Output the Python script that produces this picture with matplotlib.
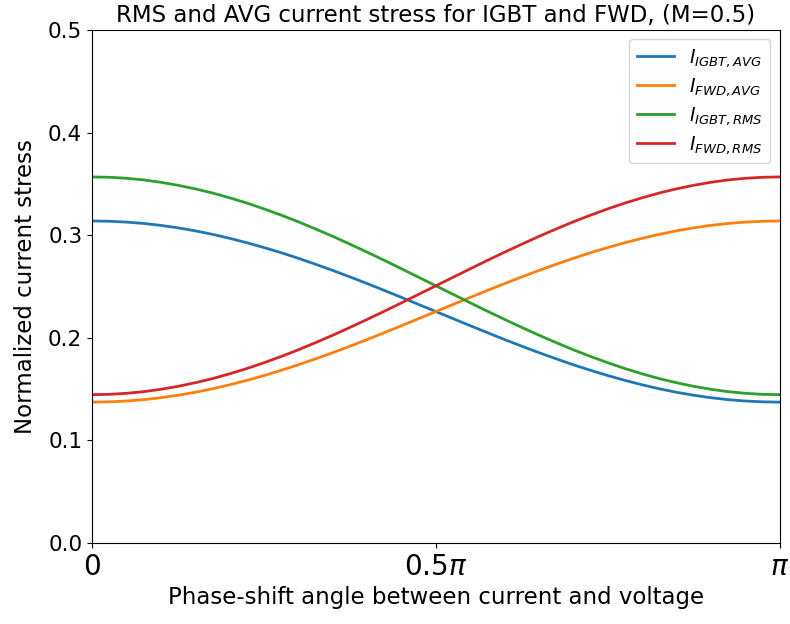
import numpy as np
from matplotlib import pyplot as plt

# phase-shift angle samples (in units of pi)
phi = [0.000, 0.025, 0.050, 0.075, 0.100, 0.125, 0.150, 0.175, 0.200, 0.225,
       0.250, 0.275, 0.300, 0.325, 0.350, 0.375, 0.400, 0.425, 0.450, 0.475,
       0.500, 0.525, 0.550, 0.575, 0.600, 0.625, 0.650, 0.675, 0.700, 0.725,
       0.750, 0.775, 0.800, 0.825, 0.850, 0.875, 0.900, 0.925, 0.950, 0.975,
       1.000]

i_igbt_avg = [0.3138, 0.3135, 0.3127, 0.3114, 0.3095, 0.3071, 0.3042, 0.3008,
              0.2969, 0.2926, 0.2879, 0.2829, 0.2774, 0.2716, 0.2656, 0.2593,
              0.2528, 0.2461, 0.2393, 0.2324, 0.2255, 0.2186, 0.2117, 0.2049,
              0.1982, 0.1917, 0.1854, 0.1794, 0.1736, 0.1682, 0.1631, 0.1584,
              0.1541, 0.1502, 0.1468, 0.1439, 0.1415, 0.1396, 0.1383, 0.1375,
              0.1372]
i_fwd_avg = [0.1372, 0.1375, 0.1383, 0.1396, 0.1415, 0.1439, 0.1468, 0.1502,
             0.1541, 0.1584, 0.1631, 0.1682, 0.1736, 0.1794, 0.1854, 0.1917,
             0.1982, 0.2049, 0.2117, 0.2186, 0.2255, 0.2324, 0.2393, 0.2461,
             0.2528, 0.2593, 0.2656, 0.2716, 0.2774, 0.2829, 0.2879, 0.2926,
             0.2969, 0.3008, 0.3042, 0.3071, 0.3095, 0.3114, 0.3127, 0.3135,
             0.3138]
i_igbt_rms = [0.3567, 0.3564, 0.3554, 0.3538, 0.3515, 0.3486, 0.3451, 0.3411,
              0.3364, 0.3313, 0.3256, 0.3195, 0.3130, 0.3060, 0.2988, 0.2912,
              0.2834, 0.2754, 0.2672, 0.2589, 0.2506, 0.2423, 0.2340, 0.2258,
              0.2178, 0.2100, 0.2024, 0.1952, 0.1882, 0.1817, 0.1756, 0.1699,
              0.1648, 0.1601, 0.1561, 0.1526, 0.1497, 0.1474, 0.1458, 0.1448,
              0.1445]
i_fwd_rms = [0.1445, 0.1448, 0.1458, 0.1474, 0.1497, 0.1526, 0.1561, 0.1601,
             0.1648, 0.1699, 0.1756, 0.1817, 0.1882, 0.1952, 0.2024, 0.2100,
             0.2178, 0.2258, 0.2340, 0.2423, 0.2506, 0.2589, 0.2672, 0.2754,
             0.2834, 0.2912, 0.2988, 0.3060, 0.3130, 0.3195, 0.3256, 0.3313,
             0.3364, 0.3411, 0.3451, 0.3486, 0.3515, 0.3538, 0.3554, 0.3564,
             0.3567]

x = np.array(phi) * np.pi

fig = plt.figure(figsize=(7.9, 6.24), dpi=100)
ax = fig.add_axes([0.1165, 0.130, 0.8705, 0.822])

ax.plot(x, i_igbt_avg, lw=2, label=r'$I_{IGBT,AVG}$')
ax.plot(x, i_fwd_avg, lw=2, label=r'$I_{FWD,AVG}$')
ax.plot(x, i_igbt_rms, lw=2, label=r'$I_{IGBT,RMS}$')
ax.plot(x, i_fwd_rms, lw=2, label=r'$I_{FWD,RMS}$')

ax.set_xlim(0, np.pi)
ax.set_ylim(0, 0.5)
ax.set_xticks([0, 0.5 * np.pi, np.pi])
ax.set_xticklabels(['$0$', r'$0.5\pi$', r'$\pi$'], fontsize=20)
ax.set_yticks([0.0, 0.1, 0.2, 0.3, 0.4, 0.5])
ax.tick_params(axis='y', labelsize=15.5)

ax.set_title('RMS and AVG current stress for IGBT and FWD, (M=0.5)', fontsize=16.5)
ax.set_xlabel('Phase-shift angle between current and voltage', fontsize=16.5)
ax.set_ylabel('Normalized current stress', fontsize=16.5, labelpad=8)
ax.legend(loc='upper right', fontsize=13.5, labelspacing=0.38)

fig.savefig('out.png', dpi=100)
